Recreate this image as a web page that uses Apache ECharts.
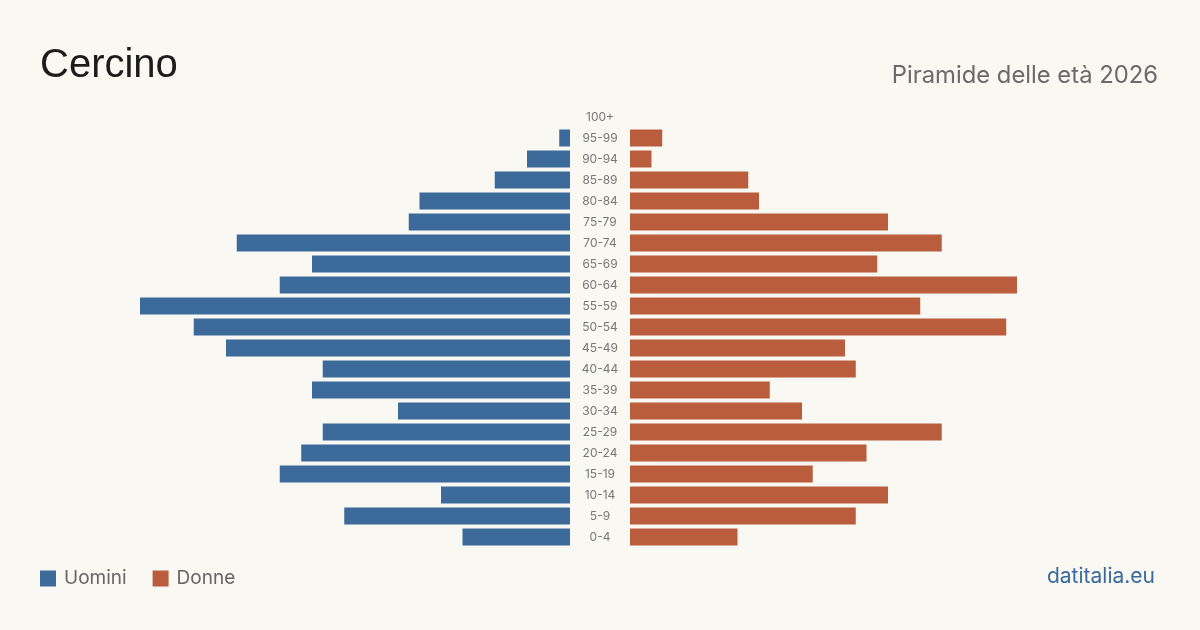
<!DOCTYPE html>
<html>
<head>
<meta charset="utf-8">
<style>
  html, body { margin: 0; padding: 0; background: #f9f8f3; }
  #chart { width: 1200px; height: 630px; }
</style>
<script src="https://cdn.jsdelivr.net/npm/echarts@6/dist/echarts.min.js"></script>
</head>
<body>
<div id="chart"></div>
<script>
  // age bands, top to bottom as drawn
  const ages = ["100+", "95-99", "90-94", "85-89", "80-84", "75-79", "70-74", "65-69", "60-64", "55-59",
    "50-54", "45-49", "40-44", "35-39", "30-34", "25-29", "20-24", "15-19", "10-14", "5-9", "0-4"];
  const men = [0, 1, 4, 7, 14, 15, 31, 24, 27, 40, 35, 32, 23, 24, 16, 23, 25, 27, 12, 21, 10];
  const women = [0, 3, 2, 11, 12, 24, 29, 23, 36, 27, 35, 20, 21, 13, 16, 29, 22, 17, 24, 21, 10];

  const blue = "#3b6a9b";
  const orange = "#b95d3c";
  const font = "Inter, 'Noto Sans', sans-serif";

  const chart = echarts.init(document.getElementById("chart"), null, { renderer: "canvas" });

  const gridTop = 106.5;
  const gridBottom = 82.5;

  chart.setOption({
    backgroundColor: "#f9f8f3",
    animation: false,
    textStyle: { fontFamily: font },
    legend: {
      left: 35,
      top: 564,
      itemWidth: 16,
      itemHeight: 16,
      itemGap: 26,
      icon: "rect",
      data: ["Uomini", "Donne"],
      textStyle: { color: "#666", fontSize: 19, fontFamily: font, padding: [0, 0, 0, 3] }
    },
    grid: [
      { left: 140, width: 430, top: gridTop, bottom: gridBottom },
      { left: 630, width: 430, top: gridTop, bottom: gridBottom }
    ],
    xAxis: [
      { gridIndex: 0, type: "value", min: 0, max: 40, inverse: true, show: false },
      { gridIndex: 1, type: "value", min: 0, max: 40, show: false }
    ],
    yAxis: [
      {
        gridIndex: 0,
        type: "category",
        data: ages,
        inverse: true,
        position: "right",
        axisLine: { show: false },
        axisTick: { show: false },
        axisLabel: { margin: 30, align: "center", color: "#777", fontSize: 12, fontFamily: font }
      },
      {
        gridIndex: 1,
        type: "category",
        data: ages,
        inverse: true,
        axisLine: { show: false },
        axisTick: { show: false },
        axisLabel: { show: false }
      }
    ],
    series: [
      {
        name: "Uomini",
        type: "bar",
        xAxisIndex: 0,
        yAxisIndex: 0,
        data: men,
        barWidth: 17,
        itemStyle: { color: blue }
      },
      {
        name: "Donne",
        type: "bar",
        xAxisIndex: 1,
        yAxisIndex: 1,
        data: women,
        barWidth: 17,
        itemStyle: { color: orange }
      }
    ],
    graphic: [
      {
        type: "text",
        left: 40,
        top: 46,
        style: { text: "Cercino", fill: "#1c1c1c", font: "400 40px 'Liberation Sans', Arial, sans-serif" }
      },
      {
        type: "text",
        right: 42,
        top: 64,
        style: { text: "Piramide delle età 2026", fill: "#6b6b6b", font: "400 23.8px " + font }
      },
      {
        type: "text",
        right: 45,
        top: 566,
        style: { text: "datitalia.eu", fill: "#3a6a9e", font: "400 21px " + font }
      }
    ]
  });

  window.addEventListener("resize", () => chart.resize());
</script>
</body>
</html>
